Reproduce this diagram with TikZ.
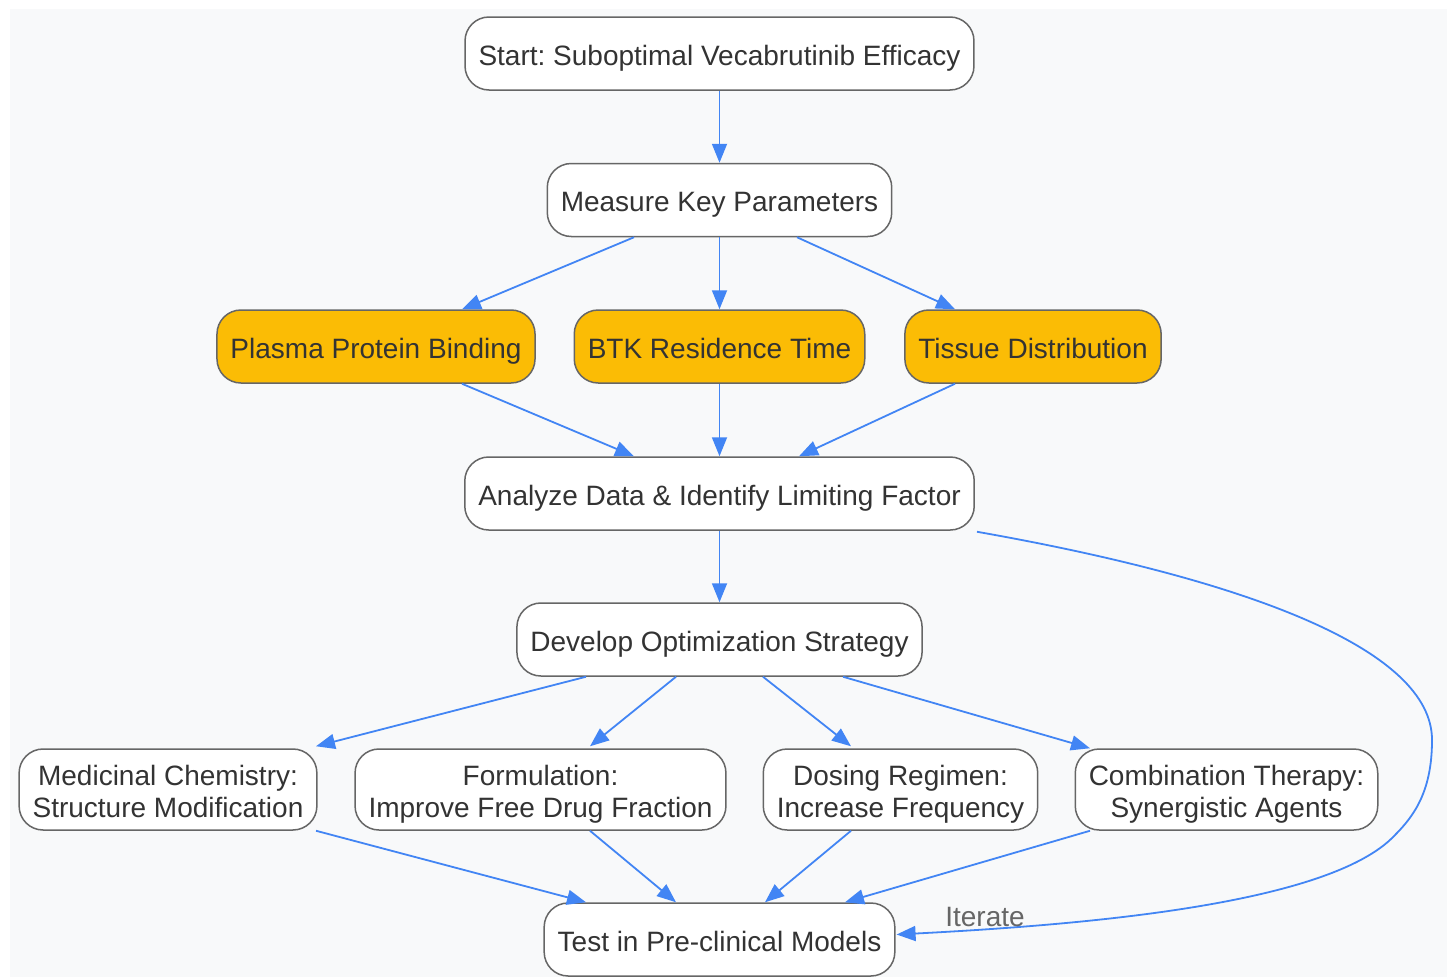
\documentclass[tikz,border=0pt]{standalone}
\usepackage{fontspec}
\setmainfont{Liberation Sans}
\frenchspacing
\usetikzlibrary{arrows.meta}
\definecolor{bg}{HTML}{F8F9FA}
\definecolor{edge}{HTML}{4285F4}
\definecolor{stroke}{HTML}{666666}
\definecolor{txt}{HTML}{333333}
\definecolor{gold}{HTML}{FBBC05}
\definecolor{lbl}{HTML}{666666}
\tikzset{
  box/.style={draw=stroke, line width=1.5pt, rounded corners=24pt, fill=white,
    text=txt, font=\fontsize{28}{32}\selectfont, align=center,
    minimum height=73pt, inner xsep=13.5pt, inner ysep=2pt,
    text height=26pt, text depth=3pt},
  hl/.style={box, fill=gold},
  tall/.style={box, minimum height=81pt, text height=56pt, text depth=1pt},
  conn/.style={draw=edge, line width=1.8pt, -{Triangle[length=19pt,width=15pt]}},
}
\begin{document}
\begin{tikzpicture}[x=1pt,y=-1pt]
\useasboundingbox (0,0) rectangle (1447,977);
\fill[bg] (10,9) rectangle (1447,977);

\node[box] (start) at (719.5,53.5) {Start: Suboptimal Vecabrutinib Efficacy};
\node[box] (meas) at (719.5,200) {Measure Key Parameters};
\node[hl] (ppb) at (376,346.5) {Plasma Protein Binding};
\node[hl] (btk) at (719.5,346.5) {BTK Residence Time};
\node[hl] (tis) at (1033,346.5) {Tissue Distribution};
\node[box] (ana) at (719.5,493.5) {Analyze Data \& Identify Limiting Factor};
\node[box] (dev) at (719.5,639.5) {Develop Optimization Strategy};
\node[tall] (med) at (168,789.5) {Medicinal Chemistry:\\Structure Modification};
\node[tall] (form) at (540.5,789.5) {Formulation:\\Improve Free Drug Fraction};
\node[tall] (dose) at (900.5,789.5) {Dosing Regimen:\\Increase Frequency};
\node[tall] (comb) at (1226.5,789.5) {Combination Therapy:\\Synergistic Agents};
\node[box] (test) at (719.5,939.5) {Test in Pre-clinical Models};

\draw[conn] (start) -- (meas);
\draw[conn] ([xshift=-85.5pt]meas.south) -- ([xshift=86pt]ppb.north);
\draw[conn] (meas) -- (btk);
\draw[conn] ([xshift=77.5pt]meas.south) -- ([xshift=-78pt]tis.north);
\draw[conn] ([xshift=86pt]ppb.south) -- ([xshift=-85.5pt]ana.north);
\draw[conn] (btk) -- (ana);
\draw[conn] ([xshift=-78pt]tis.south) -- ([xshift=79.5pt]ana.north);
\draw[conn] (ana) -- (dev);
\draw[conn] ([xshift=-133.5pt]dev.south) -- ([xshift=148pt,yshift=2pt]med.north);
\draw[conn] ([xshift=-43.5pt]dev.south) -- ([xshift=49.5pt,yshift=2pt]form.north);
\draw[conn] ([xshift=43.5pt]dev.south) -- ([xshift=-49.5pt,yshift=2pt]dose.north);
\draw[conn] ([xshift=123.5pt]dev.south) -- ([xshift=-136.5pt]comb.north);
\draw[conn] ([xshift=148pt]med.south) -- ([xshift=-133.5pt]test.north);
\draw[conn] ([xshift=49.5pt]form.south) -- ([xshift=-43.5pt]test.north);
\draw[conn] ([xshift=-49.5pt]dose.south) -- ([xshift=45.5pt]test.north);
\draw[conn] ([xshift=-136.5pt]comb.south) -- ([xshift=125.5pt]test.north);

\coordinate (c1) at (1432,740);
\coordinate (c2) at (1395,835);
\draw[conn] ([xshift=2pt,yshift=-1pt]ana.south east)
  .. controls (1250,580) and (1432,650) .. (c1)
  .. controls (1432,790) and (1415,815) .. (c2)
  .. controls (1330,905) and (1080,925) .. ([xshift=1pt,yshift=5pt]test.east);
\node[text=lbl, font=\fontsize{28}{32}\selectfont] (iter) at (985,917) {Iterate};
\end{tikzpicture}
\end{document}
